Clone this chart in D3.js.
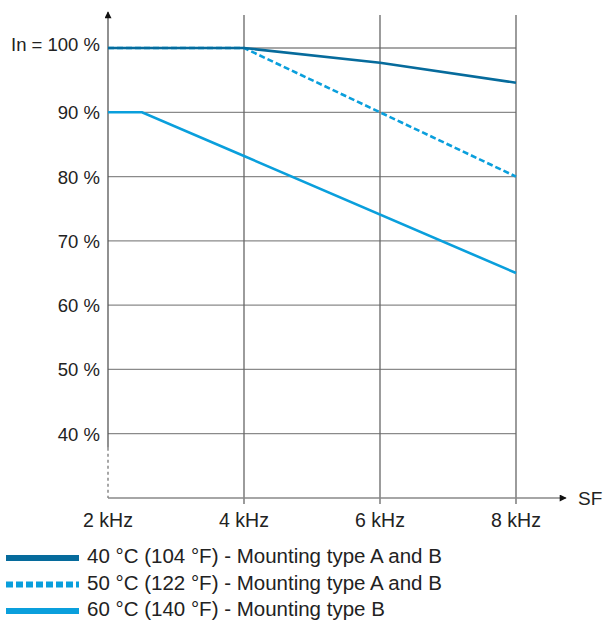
<!DOCTYPE html>
<html>
<head>
<meta charset="utf-8">
<script src="https://cdn.jsdelivr.net/npm/d3@7"></script>
<style>
  body { margin: 0; background: #fff; }
  text { font-family: "Liberation Sans", Arial, sans-serif; fill: #222; }
</style>
</head>
<body>
<div id="chart"></div>
<script>
// switching frequency (kHz) and derating (% of In)
var freqTicks = [2, 4, 6, 8];
var pctTicks = [40, 50, 60, 70, 80, 90, 100];
var pctLabels = ["40 %", "50 %", "60 %", "70 %", "80 %", "90 %", "In = 100 %"];

var freq40 = [2, 4, 6, 8];
var pct40 = [100, 100, 97.7, 94.6];

var freq50 = [2, 4, 6, 8];
var pct50 = [100, 100, 90, 80];

var freq60 = [2, 2.5, 4, 8];
var pct60 = [90, 90, 83.2, 65];

var legendLabels = [
  "40 °C (104 °F) - Mounting type A and B",
  "50 °C (122 °F) - Mounting type A and B",
  "60 °C (140 °F) - Mounting type B"
];

var W = 606, H = 621;
var dark = "#066b9c", light = "#0a9fdc", grid = "#8a8a8a";

var svg = d3.select("#chart").append("svg")
    .attr("width", W)
    .attr("height", H);

var x = d3.scaleLinear().domain([2, 8]).range([108, 516]);
var y = d3.scaleLinear().domain([30, 100]).range([498, 48]);

// arrow marker
var defs = svg.append("defs");
defs.append("marker")
    .attr("id", "arrow")
    .attr("viewBox", "0 0 10 10")
    .attr("refX", 9).attr("refY", 5)
    .attr("markerWidth", 9).attr("markerHeight", 7)
    .attr("markerUnits", "userSpaceOnUse")
    .attr("orient", "auto")
  .append("path")
    .attr("d", "M0,0L10,5L0,10Z")
    .attr("fill", "#111");

// horizontal grid
svg.append("g")
  .selectAll("line")
  .data(pctTicks)
  .enter()
  .append("line")
    .attr("x1", x(2)).attr("x2", x(8))
    .attr("y1", function(d) { return y(d); })
    .attr("y2", function(d) { return y(d); })
    .attr("stroke", grid)
    .attr("stroke-width", 1.3);

// vertical grid
svg.append("g")
  .selectAll("line")
  .data(freqTicks.slice(1))
  .enter()
  .append("line")
    .attr("x1", function(d) { return x(d); })
    .attr("x2", function(d) { return x(d); })
    .attr("y1", 15).attr("y2", y(30) + 6)
    .attr("stroke", "#666")
    .attr("stroke-width", 1.3);

// y axis: solid above 40 %, broken below
svg.append("line")
    .attr("x1", x(2)).attr("x2", x(2))
    .attr("y1", y(37.8)).attr("y2", 12)
    .attr("stroke", "#555")
    .attr("stroke-width", 1.3)
    .attr("marker-end", "url(#arrow)");
svg.append("line")
    .attr("x1", x(2)).attr("x2", x(2))
    .attr("y1", y(37.8)).attr("y2", y(30))
    .attr("stroke", "#777")
    .attr("stroke-width", 1.3)
    .attr("stroke-dasharray", "3,3");

// x axis
svg.append("line")
    .attr("x1", x(2)).attr("x2", 566)
    .attr("y1", y(30)).attr("y2", y(30))
    .attr("stroke", "#888")
    .attr("stroke-width", 1.5)
    .attr("marker-end", "url(#arrow)");

svg.append("text")
    .attr("x", 578).attr("y", y(30) + 7)
    .style("font-size", "19px")
    .text("SF");

// tick labels
svg.append("g")
  .selectAll("text")
  .data(pctTicks)
  .enter()
  .append("text")
    .attr("x", 100)
    .attr("y", function(d) { return y(d) + (d === 100 ? 3 : 7); })
    .attr("text-anchor", "end")
    .style("font-size", "18.5px")
    .text(function(d, i) { return pctLabels[i]; });

svg.append("g")
  .selectAll("text")
  .data(freqTicks)
  .enter()
  .append("text")
    .attr("x", function(d) { return x(d); })
    .attr("y", 527)
    .attr("text-anchor", "middle")
    .style("font-size", "19.5px")
    .text(function(d) { return d + " kHz"; });

// curves
var line = d3.line()
    .x(function(d) { return x(d[0]); })
    .y(function(d) { return y(d[1]); });

var series = [
  { f: freq60, p: pct60, color: light, dash: null },
  { f: freq50, p: pct50, color: light, dash: "6,3" },
  { f: freq40, p: pct40, color: dark, dash: null }
];

svg.append("g")
  .selectAll("path")
  .data(series)
  .enter()
  .append("path")
    .attr("d", function(s) { return line(d3.zip(s.f, s.p)); })
    .attr("fill", "none")
    .attr("stroke", function(s) { return s.color; })
    .attr("stroke-width", 2.6)
    .attr("stroke-dasharray", function(s) { return s.dash; });

// legend
var legendColors = [dark, light, light];
var legendDash = [null, "7,3", null];
var leg = svg.append("g")
  .selectAll("g")
  .data(legendLabels)
  .enter()
  .append("g")
    .attr("transform", function(d, i) { return "translate(0," + (558 + i * 26.5) + ")"; });

leg.append("line")
    .attr("x1", 6).attr("x2", 79)
    .attr("y1", 0).attr("y2", 0)
    .attr("stroke", function(d, i) { return legendColors[i]; })
    .attr("stroke-width", 6)
    .attr("stroke-dasharray", function(d, i) { return legendDash[i]; });

leg.append("text")
    .attr("x", 87)
    .attr("y", 5)
    .style("font-size", "20.5px")
    .text(function(d) { return d; });
</script>
</body>
</html>
